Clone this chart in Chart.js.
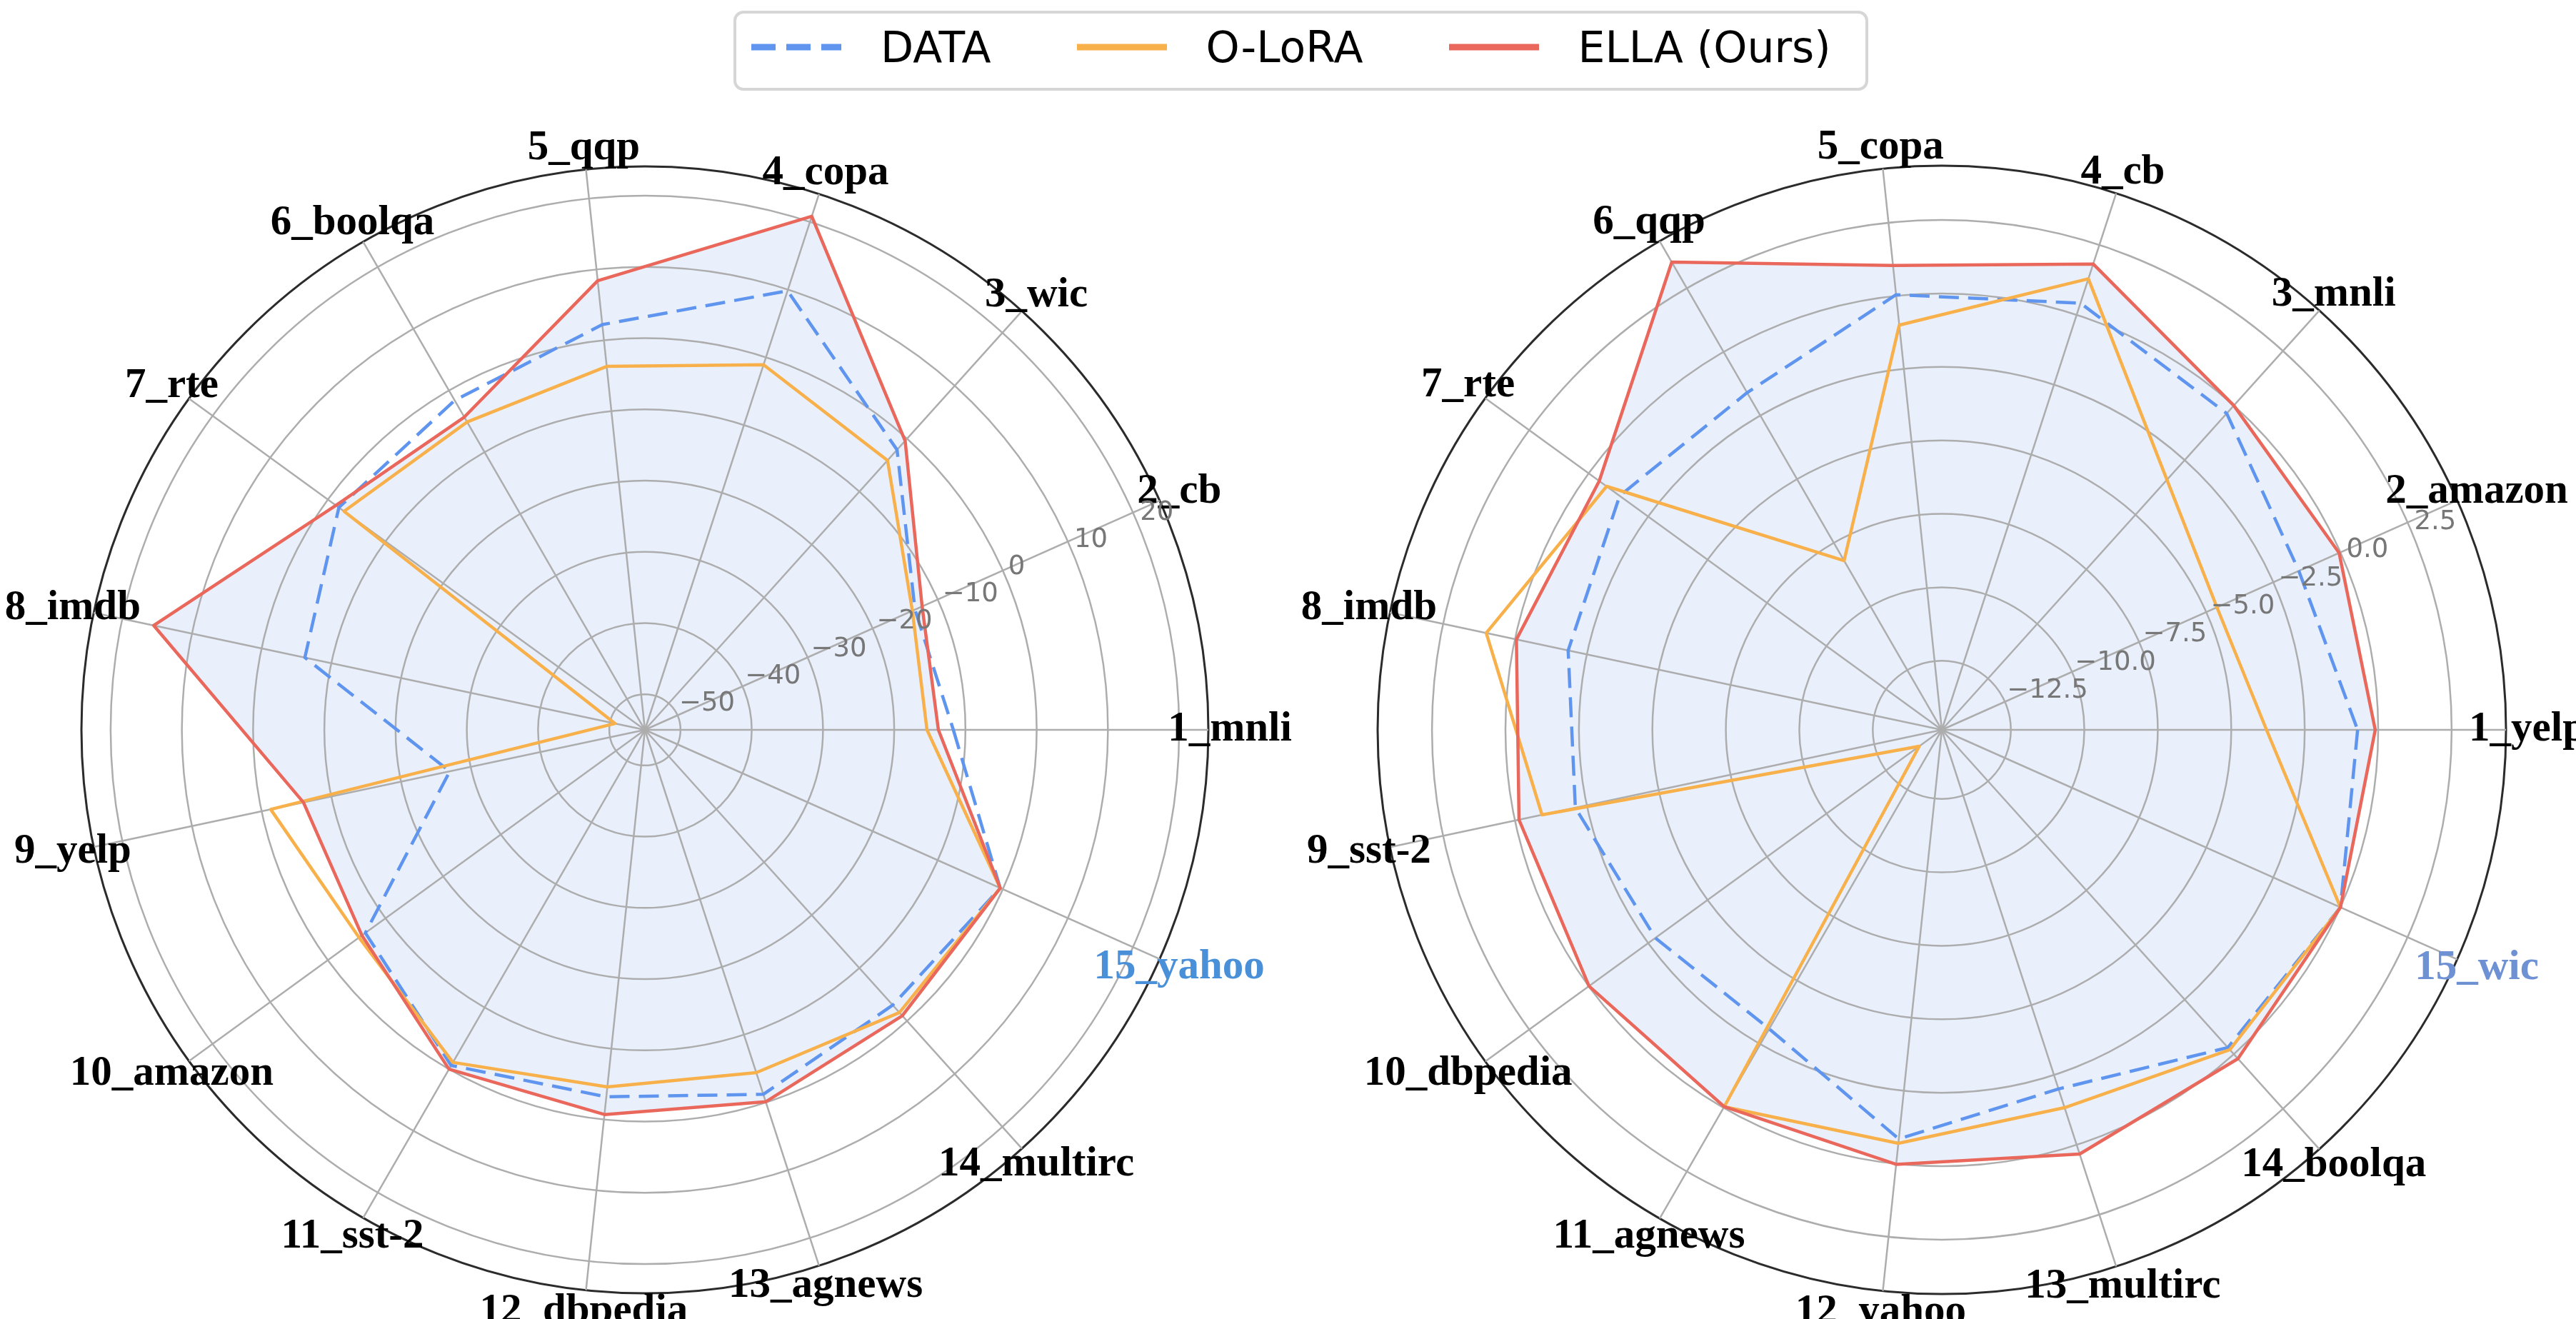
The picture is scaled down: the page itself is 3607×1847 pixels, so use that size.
<!DOCTYPE html>
<html>
<head>
<meta charset="utf-8">
<script src="https://cdn.jsdelivr.net/npm/chart.js@4.4.1/dist/chart.umd.min.js"></script>
<style>
  body { margin: 0; background: #fff; }
  #page { position: relative; width: 3607px; height: 1847px; overflow: hidden; background: #fff; }
  canvas { position: absolute; left: 0; top: 0; }
  #legend {
    position: absolute; left: 1027px; top: 15px; width: 1589px; height: 112px;
    box-sizing: border-box; padding: 0 0 10px 21px;
    border: 4px solid #d6d6d6; border-radius: 14px; background: #fff;
    display: flex; align-items: center;
    font-family: "DejaVu Sans"; font-size: 60px; color: #000;
  }
  #legend .item { display: flex; align-items: center; margin-right: 120px; }
  #legend .item:last-child { margin-right: 0; }
  #legend .item span { margin-left: 55px; }
</style>
</head>
<body>
<div id="page">
  <canvas id="left" width="3607" height="1847"></canvas>
  <canvas id="right" width="3607" height="1847"></canvas>
  <div id="legend"></div>
</div>
<script>
// series, same for both radars
const seriesNames = ['DATA', 'O-LoRA', 'ELLA (Ours)'];
const seriesColors = ['#5f95ee', '#f8b04b', '#e9675b'];

// left radar
const leftTasks = ['1_mnli', '2_cb', '3_wic', '4_copa', '5_qqp', '6_boolqa', '7_rte', '8_imdb',
  '9_yelp', '10_amazon', '11_sst-2', '12_dbpedia', '13_agnews', '14_multirc', '15_yahoo'];
const leftDATA  = [-11.7, -13.5, -2.1, 9.8, 2.2, -1.6, -1.9, -6.2, -27.0, -6.5, -0.6, -3.2, -1.2, -3.0, -0.4];
const leftOLoRA = [-15.4, -13.9, -4.1, -1.1, -3.7, -5.1, -2.8, -50.7, -1.3, -5.4, -1.1, -4.6, -4.4, -1.6, -0.4];
const leftELLA  = [-13.8, -12.4, -0.4, 20.8, 8.4, -4.3, -1.4, 15.5, -6.0, -5.9, 0.0, -0.7, -0.1, -1.0, -0.4];
const leftTicks = [-50, -40, -30, -20, -10, 0, 10, 20];
const leftRange = [-55, 24.1];

// right radar
const rightTasks = ['1_yelp', '2_amazon', '3_mnli', '4_cb', '5_copa', '6_qqp', '7_rte', '8_imdb',
  '9_sst-2', '10_dbpedia', '11_agnews', '12_yahoo', '13_multirc', '14_boolqa', '15_wic'];
const rightDATA  = [-0.7, -1.55, -0.36, 0.42, 0.04, -1.6, -1.3, -1.85, -2.1, -2.8, -3.1, -0.85, -2.0, -0.3, 0.0];
const rightOLoRA = [-3.8, -4.6, -3.4, 1.29, -1.0, -8.2, -0.75, 1.0, -0.94, -13.9, -0.04, -0.7, -1.33, -0.2, 0.0];
const rightELLA  = [-0.1, -0.05, 0.0, 1.82, 1.04, 3.53, -0.44, -0.05, -0.14, -0.01, -0.04, 0.02, 0.33, 0.21, 0.0];
const rightTicks = [-12.5, -10, -7.5, -5, -2.5, 0, 2.5];
const rightRange = [-14.85, 4.35];

const GRID = '#adadad';
const SPINE = '#2b2b2b';
const FILL = 'rgba(100, 149, 237, 0.14)';

// task names outside the circle + radial tick labels at 22.5 deg
function radarText(ticks, decimals, highlight, highlightColor) {
  return {
    id: 'radarText',
    afterDraw(chart) {
      const r = chart.scales.r;
      const ctx = chart.ctx;
      ctx.save();
      ctx.font = 'bold 59px "Liberation Serif"';
      ctx.textAlign = 'center';
      ctx.textBaseline = 'middle';
      chart.data.labels.forEach(function (name, i) {
        const p = r.getPointPosition(i, r.drawingArea + 30);
        ctx.fillStyle = name === highlight ? highlightColor : '#000';
        ctx.fillText(name, p.x, p.y);
      });

      ctx.font = '37px "DejaVu Sans"';
      ctx.textAlign = 'left';
      ctx.textBaseline = 'alphabetic';
      ctx.fillStyle = '#777';
      const a = -22.5 * Math.PI / 180;
      ticks.forEach(function (v) {
        const d = r.getDistanceFromCenterForValue(v);
        const txt = (v < 0 ? '\u2212' : '') + Math.abs(v).toFixed(decimals);
        ctx.fillText(txt, r.xCenter + Math.cos(a) * d + 2, r.yCenter + Math.sin(a) * d - 8);
      });
      ctx.restore();
    }
  };
}

function makeRadar(id, tasks, values, range, ticks, decimals, highlight, highlightColor, padding) {
  // matplotlib goes counter-clockwise from 3 o'clock, Chart.js clockwise:
  // keep task 1 first and reverse the others
  const order = tasks.map(function (t, i) { return (tasks.length - i) % tasks.length; });
  const pick = function (arr) { return order.map(function (i) { return arr[i]; }); };

  const datasets = seriesNames.map(function (name, k) {
    return {
      label: name,
      data: pick(values[k]),
      borderColor: seriesColors[k],
      borderWidth: 4.5,
      borderDash: k === 0 ? [28, 13] : [],
      borderJoinStyle: 'round',
      pointRadius: 0,
      pointHoverRadius: 0,
      fill: k === 2 ? 'start' : false,
      backgroundColor: k === 2 ? FILL : 'rgba(0,0,0,0)',
      order: 3 - k
    };
  });

  return new Chart(document.getElementById(id), {
    type: 'radar',
    data: { labels: pick(tasks), datasets: datasets },
    options: {
      responsive: false,
      animation: false,
      layout: { padding: padding },
      elements: { line: { tension: 0 } },
      plugins: {
        legend: { display: false },
        tooltip: { enabled: false },
        filler: { drawTime: 'beforeDraw' }
      },
      scales: {
        r: {
          min: range[0],
          max: range[1],
          startAngle: 90,
          afterBuildTicks: function (scale) {
            scale.ticks = [range[0]].concat(ticks, [range[1]]).map(function (v) { return { value: v }; });
          },
          ticks: { display: false },
          pointLabels: { display: false },
          grid: {
            circular: true,
            color: function (c) { return c.tick && Math.abs(c.tick.value - range[1]) < 1e-6 ? SPINE : GRID; },
            lineWidth: function (c) { return c.tick && Math.abs(c.tick.value - range[1]) < 1e-6 ? 3 : 2.5; }
          },
          angleLines: { color: GRID, lineWidth: 2.5 }
        }
      }
    },
    plugins: [radarText(ticks, decimals, highlight, highlightColor)]
  });
}

makeRadar('left', leftTasks, [leftDATA, leftOLoRA, leftELLA], leftRange, leftTicks, 0,
  '15_yahoo', '#4a90d9', { left: 114, right: 1915, top: 233, bottom: 36 });
makeRadar('right', rightTasks, [rightDATA, rightOLoRA, rightELLA], rightRange, rightTicks, 1,
  '15_wic', '#6e91d4', { left: 1929, right: 98, top: 232, bottom: 35 });

// legend box across the top
const legend = document.getElementById('legend');
seriesNames.forEach(function (name, k) {
  const item = document.createElement('div');
  item.className = 'item';
  const dash = k === 0 ? ' stroke-dasharray="34 15"' : '';
  item.innerHTML = '<svg width="126" height="12"><line x1="0" y1="6" x2="126" y2="6" stroke="' +
    seriesColors[k] + '" stroke-width="9"' + dash + '/></svg><span>' + name + '</span>';
  legend.appendChild(item);
});
</script>
</body>
</html>
